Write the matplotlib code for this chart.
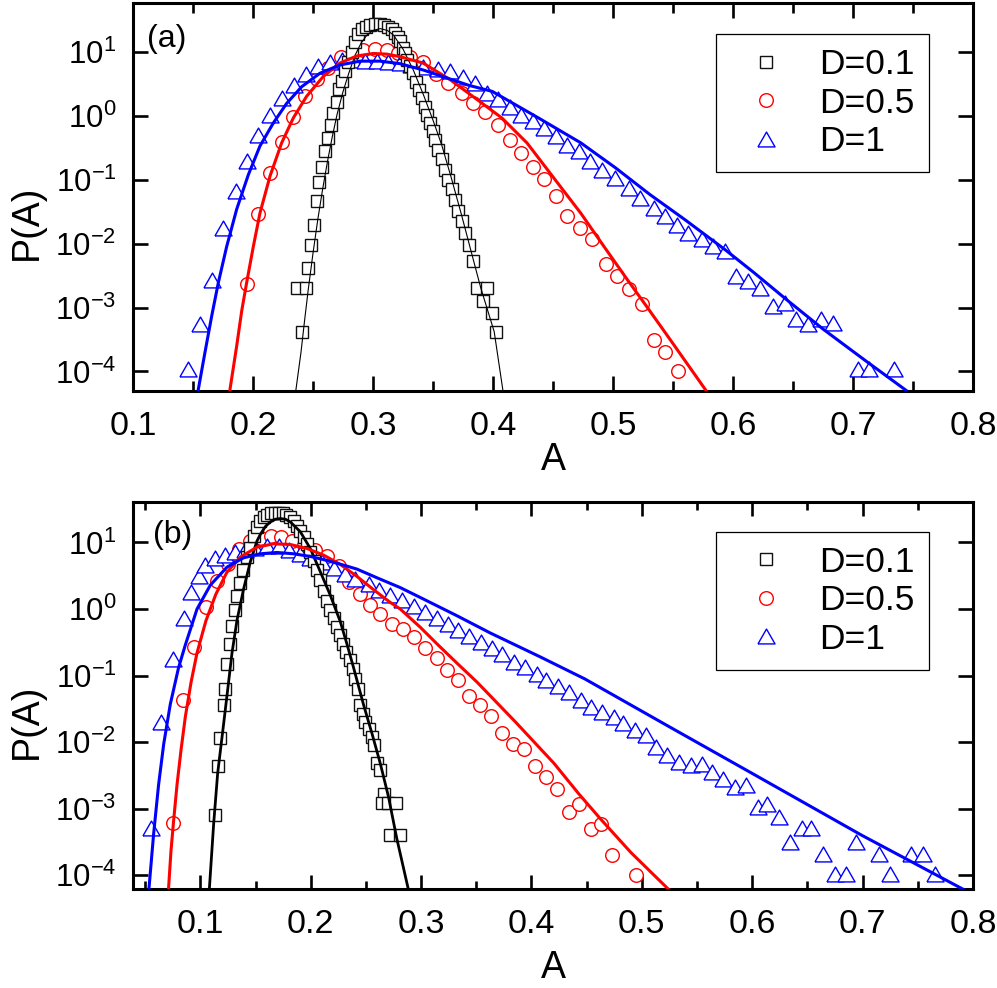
import matplotlib
matplotlib.use('Agg')
import matplotlib.pyplot as plt
from matplotlib.lines import Line2D
from matplotlib.ticker import NullLocator

plt.rcParams['font.family'] = ['Liberation Sans', 'DejaVu Sans']
plt.rcParams['mathtext.fontset'] = 'custom'
plt.rcParams['mathtext.rm'] = 'Liberation Sans'
plt.rcParams['mathtext.it'] = 'Liberation Sans:italic'
plt.rcParams['mathtext.bf'] = 'Liberation Sans:bold'

# ---------------- Panel (a) data ----------------
a_sq_x = [0.2411, 0.2369, 0.2442, 0.2461, 0.2481, 0.2508, 0.2531, 0.2553, 0.2575, 0.2600,
          0.2622, 0.2647, 0.2669, 0.2697, 0.2719, 0.2742, 0.2767, 0.2794, 0.2822, 0.2850,
          0.2878, 0.2905, 0.2941, 0.2975, 0.3017, 0.3058, 0.3092, 0.3128, 0.3156, 0.3183,
          0.3205, 0.3225, 0.3247, 0.3267, 0.3286, 0.3308, 0.3336, 0.3358, 0.3386, 0.3406,
          0.3433, 0.3453, 0.3475, 0.3497, 0.3517, 0.3544, 0.3572, 0.3600, 0.3628, 0.3656,
          0.3683, 0.3711, 0.3739, 0.3767, 0.3803, 0.3836, 0.3866, 0.3946, 0.3914, 0.3994,
          0.4025]
a_sq_y = [4.2e-4, 2.0e-3, 2.0e-3, 4.1e-3, 9.5e-3, 0.020, 0.047, 0.091, 0.158, 0.282,
          0.447, 0.724, 1.12, 1.66, 2.63, 3.55, 5.01, 7.08, 10.2, 14.5,
          19.5, 22.9, 25.1, 26.9, 27.5, 27.5, 26.9, 25.1, 22.9, 20.0,
          17.0, 14.8, 11.7, 9.55, 7.59, 6.03, 4.68, 3.47, 2.57, 1.91,
          1.41, 1.05, 0.776, 0.575, 0.427, 0.295, 0.209, 0.145, 0.100, 0.0708,
          0.049, 0.0324, 0.0224, 0.0148, 0.00955, 0.00537, 0.0020, 0.0020, 0.00126, 8.3e-4,
          4.2e-4]

a_fit1_x = [0.2358, 0.2400, 0.2430, 0.2461, 0.2500, 0.2540, 0.2580, 0.2620, 0.2660, 0.2700,
            0.2750, 0.2800, 0.2850, 0.2900, 0.2950, 0.3000, 0.3060, 0.3120, 0.3170, 0.3250,
            0.3336, 0.3419, 0.3503, 0.3572, 0.3650, 0.3738, 0.3808, 0.3898, 0.4010, 0.4083]
a_fit1_y = [5.2e-5, 2.0e-4, 6.3e-4, 1.95e-3, 7.1e-3, 0.024, 0.0708, 0.191, 0.468, 1.05,
            2.40, 4.79, 8.91, 13.8, 18.6, 21.9, 23.4, 21.9, 18.6, 11.2,
            5.25, 2.19, 0.832, 0.355, 0.112, 0.0282, 8.9e-3, 2.04e-3, 4.2e-4, 5.0e-5]

a_ci_x = [0.1947, 0.2044, 0.2142, 0.2239, 0.2336, 0.2433, 0.2531, 0.2628, 0.2731, 0.2836,
          0.2919, 0.3017, 0.3114, 0.3211, 0.3308, 0.3417, 0.3529, 0.3626, 0.3738, 0.3834,
          0.3930, 0.4043, 0.4139, 0.4235, 0.4331, 0.4427, 0.4523, 0.4619, 0.4725, 0.4828,
          0.4940, 0.5036, 0.5132, 0.5238, 0.5340, 0.5437, 0.5539]
a_ci_y = [2.3e-3, 0.0288, 0.126, 0.389, 0.977, 2.09, 3.80, 5.75, 8.32, 10.0,
          10.7, 11.2, 11.0, 9.77, 8.32, 7.08, 4.57, 3.31, 2.29, 1.62,
          1.15, 0.724, 0.427, 0.263, 0.162, 0.102, 0.055, 0.0269, 0.0178, 0.0117,
          4.8e-3, 3.1e-3, 1.95e-3, 1.12e-3, 3.1e-4, 2.0e-4, 1.0e-4]

a_fit5_x = [0.1808, 0.1864, 0.1906, 0.1947, 0.2003, 0.2058, 0.2142, 0.2239, 0.2336, 0.2447,
            0.2586, 0.2725, 0.2864, 0.3003, 0.3114, 0.3225, 0.3417, 0.3642, 0.3866, 0.4074,
            0.4283, 0.4507, 0.4731, 0.4924, 0.5116, 0.5276, 0.5469, 0.5773]
a_fit5_y = [5.2e-5, 2.5e-4, 8.9e-4, 2.45e-3, 9.1e-3, 0.0302, 0.115, 0.380, 0.933, 2.04,
            4.17, 6.76, 8.71, 9.55, 9.33, 8.51, 6.76, 3.72, 1.82, 0.933,
            0.380, 0.107, 0.0302, 9.1e-3, 2.8e-3, 1.07e-3, 3.3e-4, 5.1e-5]

a_tr_x = [0.1456, 0.1558, 0.1656, 0.1753, 0.1856, 0.1947, 0.2044, 0.2142, 0.2239, 0.2342,
          0.2442, 0.2544, 0.2642, 0.2740, 0.2836, 0.2933, 0.3030, 0.3126, 0.3222, 0.3318,
          0.3414, 0.3545, 0.3642, 0.3746, 0.3850, 0.3946, 0.4043, 0.4139, 0.4235, 0.4331,
          0.4427, 0.4523, 0.4619, 0.4715, 0.4812, 0.4908, 0.5020, 0.5132, 0.5228, 0.5340,
          0.5437, 0.5533, 0.5629, 0.5741, 0.5837, 0.5933, 0.6029, 0.6126, 0.6222, 0.6334,
          0.6430, 0.6526, 0.6623, 0.6735, 0.6831, 0.7039, 0.7135, 0.7343]
a_tr_y = [1.1e-4, 5.5e-4, 2.75e-3, 0.0178, 0.066, 0.195, 0.513, 1.05, 1.91, 3.09,
          4.57, 6.03, 7.08, 7.41, 7.41, 7.24, 7.24, 7.08, 6.76, 6.31,
          5.89, 5.50, 5.01, 4.07, 3.31, 2.29, 1.82, 1.41, 1.05, 0.832,
          0.646, 0.479, 0.355, 0.282, 0.195, 0.145, 0.107, 0.0741, 0.0525, 0.0363,
          0.0269, 0.020, 0.0148, 0.0117, 9.1e-3, 7.6e-3, 3.1e-3, 2.6e-3, 2.0e-3, 1.05e-3,
          1.2e-3, 6.6e-4, 5.5e-4, 6.6e-4, 5.8e-4, 1.1e-4, 1.1e-4, 1.1e-4]

a_fit10_x = [0.1544, 0.1600, 0.1656, 0.1711, 0.1781, 0.1864, 0.1961, 0.2058, 0.2169, 0.2281,
             0.2406, 0.2558, 0.2725, 0.2892, 0.3058, 0.3225, 0.3420, 0.3642, 0.3800, 0.3994,
             0.4379, 0.4732, 0.5020, 0.5308, 0.5597, 0.5933, 0.6173, 0.6462, 0.6751, 0.7103,
             0.7440]
a_fit10_y = [5.2e-5, 2.0e-4, 7.4e-4, 2.45e-3, 9.1e-3, 0.0347, 0.120, 0.339, 0.776, 1.58,
             2.88, 4.68, 6.31, 7.24, 7.24, 6.61, 5.25, 3.80, 3.02, 2.43,
             0.933, 0.380, 0.155, 0.0589, 0.024, 8.1e-3, 3.55e-3, 1.26e-3, 4.6e-4, 1.48e-4,
             5.1e-5]

# ---------------- Panel (b) data ----------------
b_sq_x = [0.1136, 0.1157, 0.1181, 0.1211, 0.1226, 0.1245, 0.1265, 0.1290, 0.1310, 0.1335,
          0.1360, 0.1390, 0.1420, 0.1450, 0.1483, 0.1513, 0.1543, 0.1575, 0.1605, 0.1640,
          0.1675, 0.1710, 0.1745, 0.1780, 0.1815, 0.1845, 0.1875, 0.1905, 0.1936, 0.1966,
          0.1996, 0.2026, 0.2056, 0.2087, 0.2117, 0.2147, 0.2177, 0.2207, 0.2238, 0.2262,
          0.2292, 0.2322, 0.2352, 0.2382, 0.2404, 0.2425, 0.2449, 0.2473, 0.2494, 0.2524,
          0.2555, 0.2576, 0.2600, 0.2624, 0.2660, 0.2645, 0.2697, 0.2775, 0.2714, 0.2810]
b_sq_y = [8.1e-4, 4.3e-3, 0.0115, 0.0355, 0.063, 0.148, 0.295, 0.562, 0.977, 1.55,
          2.45, 3.89, 6.03, 8.32, 12.6, 17.0, 20.9, 24.0, 26.3, 27.5,
          28.2, 28.2, 27.5, 26.3, 24.0, 20.9, 17.8, 14.8, 12.0, 9.55,
          7.24, 5.25, 3.80, 2.69, 1.86, 1.32, 0.955, 0.724, 0.537, 0.407,
          0.302, 0.224, 0.170, 0.126, 0.0891, 0.0631, 0.0355, 0.0269, 0.020, 0.0158,
          0.012, 8.9e-3, 4.8e-3, 3.8e-3, 1.66e-3, 1.2e-3, 1.2e-3, 1.2e-3, 4.0e-4, 4.0e-4]

b_fit1_x = [0.1080, 0.1121, 0.1157, 0.1205, 0.1248, 0.1287, 0.1332, 0.1392, 0.1453, 0.1513,
            0.1543, 0.1590, 0.1634, 0.1680, 0.1725, 0.1770, 0.1815, 0.1906, 0.1996, 0.2087,
            0.2177, 0.2268, 0.2329, 0.2388, 0.2479, 0.2555, 0.2630, 0.2705, 0.2780, 0.2890]
b_fit1_y = [5.6e-5, 6.0e-4, 3.4e-3, 0.0155, 0.0617, 0.219, 0.676, 2.00, 5.13, 10.5,
            13.2, 17.4, 20.4, 22.4, 22.9, 22.4, 20.4, 14.5, 8.13, 3.63,
            1.62, 0.646, 0.295, 0.132, 0.0363, 0.0135, 4.8e-3, 1.5e-3, 3.55e-4, 5.6e-5]

b_ci_x = [0.0753, 0.0846, 0.0946, 0.1050, 0.1150, 0.1250, 0.1350, 0.1450, 0.1550, 0.1640,
          0.1735, 0.1830, 0.1936, 0.2041, 0.2147, 0.2253, 0.2350, 0.2445, 0.2539, 0.2630,
          0.2736, 0.2840, 0.2933, 0.3037, 0.3142, 0.3236, 0.3334, 0.3438, 0.3536, 0.3630,
          0.3734, 0.3832, 0.3932, 0.4030, 0.4133, 0.4232, 0.4337, 0.4430, 0.4536, 0.4629,
          0.4733, 0.4943]
b_ci_y = [6.0e-4, 0.0427, 0.269, 1.07, 2.63, 4.79, 7.94, 10.5, 11.7, 12.3,
          12.0, 10.5, 9.12, 7.76, 6.17, 4.37, 2.51, 1.66, 1.15, 0.851,
          0.603, 0.501, 0.380, 0.257, 0.182, 0.120, 0.0851, 0.0501, 0.0355, 0.0251,
          0.0135, 9.5e-3, 7.9e-3, 4.4e-3, 3.0e-3, 2.0e-3, 8.9e-4, 1.17e-3, 5.0e-4, 5.9e-4,
          2.0e-4, 1.0e-4]

b_fit5_x = [0.0710, 0.0734, 0.0758, 0.0789, 0.0825, 0.0864, 0.0916, 0.0970, 0.1050, 0.1140,
            0.1240, 0.1362, 0.1513, 0.1664, 0.1815, 0.1966, 0.2117, 0.2268, 0.2419, 0.2570,
            0.2720, 0.2811, 0.2990, 0.3160, 0.3330, 0.3508, 0.3856, 0.4204, 0.4430, 0.4629,
            0.4900, 0.5266]
b_fit5_y = [5.6e-5, 2.3e-4, 6.6e-4, 2.3e-3, 7.6e-3, 0.024, 0.0794, 0.219, 0.661, 1.66,
            3.55, 6.03, 8.51, 9.55, 9.33, 8.13, 6.46, 4.68, 3.09, 1.95,
            1.26, 1.00, 0.537, 0.282, 0.151, 0.0794, 0.020, 4.8e-3, 1.66e-3, 6.9e-4,
            2.2e-4, 5.6e-5]

b_tr_x = [0.0550, 0.0645, 0.0752, 0.0849, 0.0920, 0.0990, 0.1045, 0.1136, 0.1226, 0.1317,
          0.1408, 0.1498, 0.1604, 0.1710, 0.1800, 0.1906, 0.1996, 0.2102, 0.2207, 0.2313,
          0.2404, 0.2525, 0.2620, 0.2721, 0.2829, 0.2934, 0.3038, 0.3142, 0.3247, 0.3334,
          0.3438, 0.3543, 0.3647, 0.3734, 0.3839, 0.3943, 0.4048, 0.4135, 0.4239, 0.4344,
          0.4448, 0.4535, 0.4640, 0.4744, 0.4831, 0.4936, 0.5040, 0.5127, 0.5232, 0.5336,
          0.5441, 0.5545, 0.5632, 0.5737, 0.5841, 0.5946, 0.6050, 0.6137, 0.6242, 0.6346,
          0.6450, 0.6537, 0.6642, 0.6746, 0.6851, 0.6938, 0.7147, 0.7251, 0.7443, 0.7547,
          0.7652]
b_tr_y = [5.2e-4, 0.020, 0.180, 0.724, 1.82, 3.09, 4.57, 5.75, 6.46, 7.24,
          7.76, 8.32, 8.71, 8.71, 7.76, 6.76, 5.89, 5.01, 4.07, 3.31,
          2.82, 2.34, 1.95, 1.62, 1.35, 1.10, 0.891, 0.724, 0.589, 0.490,
          0.398, 0.316, 0.263, 0.209, 0.162, 0.135, 0.107, 0.0851, 0.0708, 0.0562,
          0.0427, 0.0339, 0.0282, 0.024, 0.0191, 0.0151, 0.0126, 8.3e-3, 6.3e-3, 5.0e-3,
          4.5e-3, 4.7e-3, 3.5e-3, 2.8e-3, 2.1e-3, 2.3e-3, 1.05e-3, 1.17e-3, 7.4e-4, 3.2e-4,
          5.2e-4, 5.2e-4, 2.1e-4, 1.05e-4, 1.05e-4, 3.2e-4, 2.1e-4, 1.05e-4, 2.1e-4, 2.1e-4,
          1.05e-4]

b_fit10_x = [0.0532, 0.0577, 0.0622, 0.0668, 0.0728, 0.0803, 0.0864, 0.0970, 0.1091, 0.1242,
             0.1392, 0.1543, 0.1694, 0.1845, 0.1996, 0.2147, 0.2298, 0.2419, 0.2600, 0.2811,
             0.3022, 0.3324, 0.3626, 0.4079, 0.4483, 0.5249, 0.5946, 0.6990, 0.7931]
b_fit10_y = [5.6e-5, 4.2e-4, 2.3e-3, 9.3e-3, 0.0372, 0.132, 0.288, 1.00, 2.29, 4.27,
             5.89, 6.76, 7.08, 6.76, 6.17, 5.37, 4.57, 3.98, 2.95, 2.10,
             1.41, 0.794, 0.437, 0.191, 0.0891, 0.0170, 3.8e-3, 4.0e-4, 5.9e-5]

legend_labels = ['D=0.1', 'D=0.5', 'D=1']
x_ticks = [0.1, 0.2, 0.3, 0.4, 0.5, 0.6, 0.7, 0.8]
x_tick_labels = ['0.1', '0.2', '0.3', '0.4', '0.5', '0.6', '0.7', '0.8']
x_minor = [0.05, 0.15, 0.25, 0.35, 0.45, 0.55, 0.65, 0.75]
y_ticks = [1e-4, 1e-3, 1e-2, 1e-1, 1e0, 1e1]
y_tick_labels = [r'$\mathregular{10^{-4}}$', r'$\mathregular{10^{-3}}$', r'$\mathregular{10^{-2}}$',
                 r'$\mathregular{10^{-1}}$', r'$\mathregular{10^{0}}$', r'$\mathregular{10^{1}}$']

# ---------------- styling ----------------
RED = '#ff0000'
BLUE = '#0000ff'
TRI = [(-1.0, -0.87), (1.0, -0.87), (0.0, 0.87), (-1.0, -0.87)]

sq_kw = dict(ls='none', marker='s', ms=8.6, mfc='white', mec='#111111', mew=1.0)
ci_kw = dict(ls='none', marker='o', ms=9.8, mfc='white', mec=RED, mew=1.0)
tr_kw = dict(ls='none', marker=TRI, ms=12.3, mfc='white', mec=BLUE, mew=1.0)

fig = plt.figure(figsize=(9.97, 9.88), dpi=100)
axA = fig.add_axes([0.1334, 0.6046, 0.8425, 0.3924])
axB = fig.add_axes([0.1334, 0.1002, 0.8425, 0.3920])


def draw(ax, sq, ci, tr, f1, f5, f10, black_lw):
    ax.plot(ci[0], ci[1], zorder=3, **ci_kw)
    ax.plot(tr[0], tr[1], zorder=4, **tr_kw)
    ax.plot(sq[0], sq[1], zorder=5, **sq_kw)
    ax.plot(f1[0], f1[1], color='black', lw=black_lw, zorder=6)
    ax.plot(f5[0], f5[1], color=RED, lw=2.2, zorder=6)
    ax.plot(f10[0], f10[1], color=BLUE, lw=2.2, zorder=6)


def style(ax, xlim, ylim, maj_len, min_len, label, lab_pos, xlab_y, ylab_y, leg_anchor):
    ax.set_yscale('log')
    ax.set_xticks(x_ticks)
    ax.set_xticklabels(x_tick_labels)
    ax.set_xticks([m for m in x_minor if m >= xlim[0]], minor=True)
    ax.set_yticks(y_ticks)
    ax.set_yticklabels(y_tick_labels)
    ax.yaxis.set_minor_locator(NullLocator())
    ax.set_xlim(*xlim)
    ax.set_ylim(*ylim)
    ax.tick_params(which='both', direction='in', top=True, right=True, width=1.9)
    ax.tick_params(axis='x', which='major', length=maj_len, pad=14.5, labelsize=24.5)
    ax.tick_params(axis='x', which='minor', length=min_len)
    ax.tick_params(axis='y', which='major', length=11, pad=12, labelsize=22.5)
    for s in ax.spines.values():
        s.set_linewidth(2.2)
    ax.set_xlabel('A', fontsize=27)
    ax.xaxis.set_label_coords(0.5, xlab_y)
    ax.set_ylabel('P(A)', fontsize=27)
    ax.yaxis.set_label_coords(-0.1048, ylab_y)
    ax.text(lab_pos[0], lab_pos[1], label, transform=ax.transAxes, fontsize=23,
            ha='left', va='top', zorder=10)
    handles = [Line2D([], [], **sq_kw), Line2D([], [], **ci_kw), Line2D([], [], **tr_kw)]
    leg = ax.legend(handles, legend_labels, loc='upper left', bbox_to_anchor=leg_anchor,
                    borderaxespad=0.0, fontsize=25.5, frameon=True, fancybox=False,
                    edgecolor='black', framealpha=1.0, handlelength=2.0,
                    handletextpad=0.5, labelspacing=0.15, borderpad=0.4)
    leg.get_frame().set_linewidth(0.9)
    leg.set_zorder(20)


draw(axA, (a_sq_x, a_sq_y), (a_ci_x, a_ci_y), (a_tr_x, a_tr_y),
     (a_fit1_x, a_fit1_y), (a_fit5_x, a_fit5_y), (a_fit10_x, a_fit10_y), 0.8)
draw(axB, (b_sq_x, b_sq_y), (b_ci_x, b_ci_y), (b_tr_x, b_tr_y),
     (b_fit1_x, b_fit1_y), (b_fit5_x, b_fit5_y), (b_fit10_x, b_fit10_y), 2.0)

style(axA, (0.1, 0.8), (5.0e-5, 59.0), 11, 7, '(a)', (0.0167, 0.945), -0.132, 0.435,
      (0.6946, 0.9193))
style(axB, (0.039, 0.8), (6.2e-5, 41.0), 10, 6, '(b)', (0.0238, 0.952), -0.1575, 0.432,
      (0.6946, 0.9225))

fig.savefig('out.png', dpi=100)
